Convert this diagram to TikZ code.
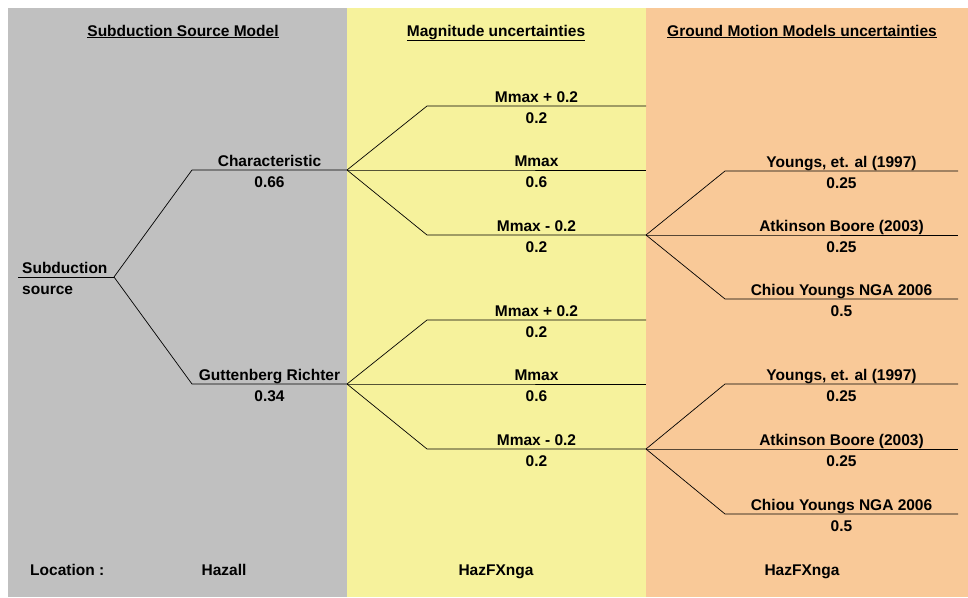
\documentclass[tikz,border=0pt]{standalone}
\usepackage{fontspec}
\setmainfont{Liberation Sans}
\definecolor{panelgray}{HTML}{C0C0C0}
\definecolor{panelyellow}{HTML}{F6F29C}
\definecolor{panelorange}{HTML}{F9C998}

\begin{document}
\begin{tikzpicture}[x=1pt, y=-1pt, font=\bfseries\fontsize{15.5}{18}\selectfont,
  branch/.style={line width=0.7pt, black},
  lbl/.style={anchor=base, inner sep=0pt, yshift=4pt},
  prob/.style={anchor=base, inner sep=0pt, yshift=-17pt},
  title/.style={anchor=base, inner sep=0pt}]

  % Page and panels
  \useasboundingbox (0,0) rectangle (968,597);
  \fill[white] (0,0) rectangle (968,597);
  \fill[panelgray] (8,8) rectangle (347,597);
  \fill[panelyellow] (347,8) rectangle (646,597);
  \fill[panelorange] (646,8) rectangle (968,597);

  % Titles
  \node[title] (titleSource) at (183,36) {\underline{Subduction Source Model}};
  \node[title] (titleMag) at (496,36) {\underline{Magnitude uncertainties}};
  \node[title] (titleGmm) at (802,36) {\underline{Ground Motion Models uncertainties}};

  % Subduction source
  \coordinate (rootA) at (18,277);
  \coordinate (root) at (114,277);
  \draw[branch] (rootA) -- (root);
  \node[anchor=base west, inner sep=0pt] (rootLbl) at (22,273) {Subduction};
  \node[anchor=base west, inner sep=0pt] (rootLblB) at (22,294) {source};

  % Source model branches
  \coordinate (charA) at (192,170);
  \coordinate (charB) at (347,170);
  \coordinate (grA) at (192,384);
  \coordinate (grB) at (347,384);
  \draw[branch] (root) -- (charA) -- (charB)
    node[midway, lbl] (charLbl) {Characteristic}
    node[midway, prob] (charP) {0.66};
  \draw[branch] (root) -- (grA) -- (grB)
    node[midway, lbl] (grLbl) {Guttenberg Richter}
    node[midway, prob] (grP) {0.34};

  % Magnitude branches (Characteristic)
  \coordinate (cUpA) at (427,106);  \coordinate (cUpB) at (646,106);
  \coordinate (cMidA) at (427,170); \coordinate (cMidB) at (646,170);
  \coordinate (cLowA) at (427,235); \coordinate (cLowB) at (646,235);
  \draw[branch] (charB) -- (cUpA) -- (cUpB)
    node[midway, lbl] (cUpLbl) {Mmax + 0.2} node[midway, prob] (cUpP) {0.2};
  \draw[branch] (charB) -- (cMidA) -- (cMidB)
    node[midway, lbl] (cMidLbl) {Mmax} node[midway, prob] (cMidP) {0.6};
  \draw[branch] (charB) -- (cLowA) -- (cLowB)
    node[midway, lbl] (cLowLbl) {Mmax - 0.2} node[midway, prob] (cLowP) {0.2};

  % Magnitude branches (Guttenberg Richter)
  \coordinate (gUpA) at (427,320);  \coordinate (gUpB) at (646,320);
  \coordinate (gMidA) at (427,384); \coordinate (gMidB) at (646,384);
  \coordinate (gLowA) at (427,449); \coordinate (gLowB) at (646,449);
  \draw[branch] (grB) -- (gUpA) -- (gUpB)
    node[midway, lbl] (gUpLbl) {Mmax + 0.2} node[midway, prob] (gUpP) {0.2};
  \draw[branch] (grB) -- (gMidA) -- (gMidB)
    node[midway, lbl] (gMidLbl) {Mmax} node[midway, prob] (gMidP) {0.6};
  \draw[branch] (grB) -- (gLowA) -- (gLowB)
    node[midway, lbl] (gLowLbl) {Mmax - 0.2} node[midway, prob] (gLowP) {0.2};

  % Ground motion branches (upper)
  \coordinate (cyA) at (725,171); \coordinate (cyB) at (958,171);
  \coordinate (caA) at (725,235); \coordinate (caB) at (958,235);
  \coordinate (ccA) at (725,299); \coordinate (ccB) at (958,299);
  \draw[branch] (cLowB) -- (cyA) -- (cyB)
    node[midway, lbl] (cyLbl) {Youngs, et. al (1997)} node[midway, prob] (cyP) {0.25};
  \draw[branch] (cLowB) -- (caA) -- (caB)
    node[midway, lbl] (caLbl) {Atkinson Boore (2003)} node[midway, prob] (caP) {0.25};
  \draw[branch] (cLowB) -- (ccA) -- (ccB)
    node[midway, lbl] (ccLbl) {Chiou Youngs NGA 2006} node[midway, prob] (ccP) {0.5};

  % Ground motion branches (lower)
  \coordinate (gyA) at (725,384); \coordinate (gyB) at (958,384);
  \coordinate (gaA) at (725,449); \coordinate (gaB) at (958,449);
  \coordinate (gcA) at (725,514); \coordinate (gcB) at (958,514);
  \draw[branch] (gLowB) -- (gyA) -- (gyB)
    node[midway, lbl] (gyLbl) {Youngs, et. al (1997)} node[midway, prob] (gyP) {0.25};
  \draw[branch] (gLowB) -- (gaA) -- (gaB)
    node[midway, lbl] (gaLbl) {Atkinson Boore (2003)} node[midway, prob] (gaP) {0.25};
  \draw[branch] (gLowB) -- (gcA) -- (gcB)
    node[midway, lbl] (gcLbl) {Chiou Youngs NGA 2006} node[midway, prob] (gcP) {0.5};

  % Location row
  \node[anchor=base west, inner sep=0pt] (locLbl) at (30,575) {Location :};
  \node[title] (locSource) at (224,575) {Hazall};
  \node[title] (locMag) at (496,575) {HazFXnga};
  \node[title] (locGmm) at (802,575) {HazFXnga};
\end{tikzpicture}
\end{document}
